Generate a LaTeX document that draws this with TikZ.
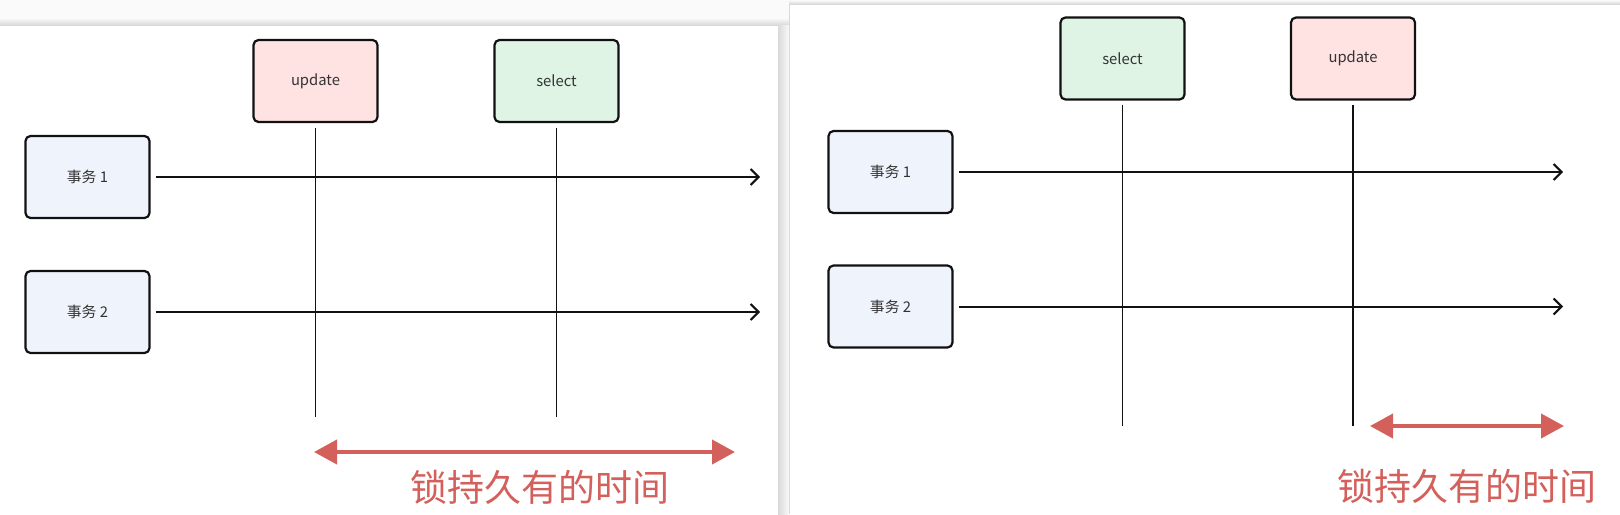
\documentclass[tikz,border=0pt]{standalone}
\usepackage{fontspec}
\setmainfont{Noto Sans CJK SC}
\usetikzlibrary{arrows.meta,positioning}
\definecolor{ink}{HTML}{111111}
\definecolor{txtgray}{HTML}{333333}
\definecolor{updbg}{HTML}{FFE2E2}
\definecolor{selbg}{HTML}{DFF4E5}
\definecolor{txbg}{HTML}{EFF4FC}
\definecolor{lockred}{HTML}{D4605B}
\definecolor{pagebg}{HTML}{FAFAFA}
\definecolor{edgegray}{HTML}{D9D9D9}
\tikzset{
  opbox/.style={draw=ink,line width=1.1pt,rounded corners=2.5pt,
                minimum width=62pt,minimum height=41pt,inner sep=0pt,
                font=\fontsize{7.4}{8}\selectfont,text=txtgray},
  updbox/.style={opbox,fill=updbg},
  selbox/.style={opbox,fill=selbg},
  txbox/.style={opbox,fill=txbg},
  timearr/.style={-{Straight Barb[length=4pt,width=8pt]},line width=1pt,color=ink},
  stmtline/.style={line width=0.9pt,color=ink},
  lockarr/.style={{Triangle[length=11.5pt,width=12pt]}-{Triangle[length=11.5pt,width=12pt]},
                  line width=2pt,color=lockred},
  locktext/.style={font=\fontsize{18.5}{20}\selectfont,text=lockred}
}

\begin{document}
\begin{tikzpicture}[x=0.5pt,y=-0.5pt]
  \useasboundingbox (0,0) rectangle (1620,514);
  % screenshot frames
  \fill[pagebg] (0,0) rectangle (1620,514);
  \shade[top color=pagebg,bottom color=edgegray] (0,18) rectangle (789,25);
  \shade[left color=edgegray,right color=pagebg] (778,25) rectangle (789,514);
  \shade[top color=pagebg,bottom color=edgegray] (789,0) rectangle (1620,4);
  \fill[white] (0,25) rectangle (778,514);
  \fill[white] (789,4) rectangle (1620,514);
  \draw[edgegray,line width=0.5pt] (0,25) -- (778,25) -- (778,514);
  \draw[edgegray,line width=0.5pt] (789,514) -- (789,4) -- (1620,4);

  % left: update first
  \node[updbox] (upd1) at (315.5,81) {update};
  \node[selbox] (sel1) at (556.5,81) {select};
  \node[txbox] (tx11) at (87.5,177) {事务 1};
  \node[txbox] (tx12) at (87.5,312) {事务 2};

  \coordinate (end11) at (760,177);
  \coordinate (end12) at (760,312);
  \draw[timearr] ([xshift=2.5pt]tx11.east) -- (end11);
  \draw[timearr] ([xshift=2.5pt]tx12.east) -- (end12);

  \coordinate (upd1bot) at (315.5,417);
  \coordinate (sel1bot) at (556.5,417);
  \draw[stmtline] ([yshift=-2.5pt]upd1.south) -- (upd1bot);
  \draw[stmtline] ([yshift=-2.5pt]sel1.south) -- (sel1bot);

  \coordinate (lock1a) at (314,452);
  \coordinate (lock1b) at (735,452);
  \draw[lockarr] (lock1a) -- (lock1b);
  \node[locktext] (lock1) at (540,487) {锁持久有的时间};

  % right: select first
  \node[selbox] (sel2) at (1122.5,58.5) {select};
  \node[updbox] (upd2) at (1353,58.5) {update};
  \node[txbox] (tx21) at (890.5,172) {事务 1};
  \node[txbox] (tx22) at (890.5,306.5) {事务 2};

  \coordinate (end21) at (1563,172);
  \coordinate (end22) at (1563,306.5);
  \draw[timearr] ([xshift=2.5pt]tx21.east) -- (end21);
  \draw[timearr] ([xshift=2.5pt]tx22.east) -- (end22);

  \coordinate (sel2bot) at (1122.5,426);
  \coordinate (upd2bot) at (1353,426);
  \draw[stmtline] ([yshift=-2pt]sel2.south) -- (sel2bot);
  \draw[stmtline] ([yshift=-2pt]upd2.south) -- (upd2bot);

  \coordinate (lock2a) at (1370,426);
  \coordinate (lock2b) at (1564,426);
  \draw[lockarr] (lock2a) -- (lock2b);
  \node[locktext] (lock2) at (1467,486) {锁持久有的时间};
\end{tikzpicture}
\end{document}
